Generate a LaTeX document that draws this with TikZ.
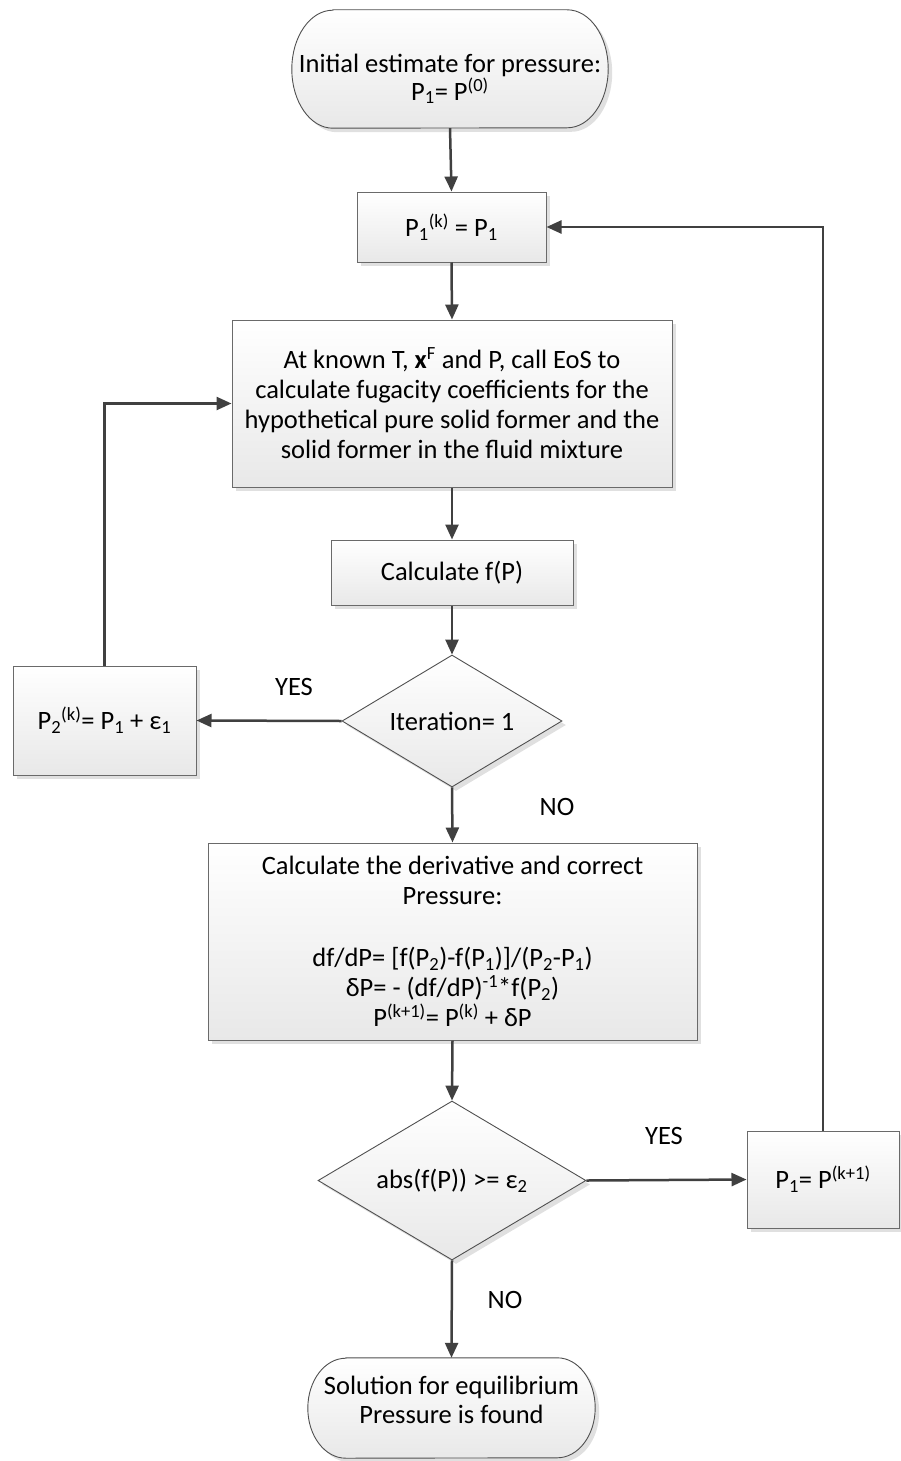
\documentclass[tikz,border=0pt]{standalone}
\usepackage{fontspec}
\setmainfont{Carlito}
\usetikzlibrary{shapes.geometric,arrows.meta,shadows,backgrounds}
\definecolor{arr}{HTML}{404040}
\definecolor{edge}{HTML}{6A6A6A}
\definecolor{dedge}{HTML}{505050}
\tikzset{
  base/.style={font=\fontsize{26.5}{30}\selectfont, align=center, inner sep=0pt},
  shad/.style={drop shadow={shadow xshift=4pt, shadow yshift=-4pt, fill=black!12, opacity=1}},
  grad/.style={top color=white, bottom color=black!9},
  stepbox/.style={base, rectangle, draw=edge, line width=1pt, grad, shad},
  decision/.style={base, diamond, draw=dedge, line width=0.9pt, grad, shad},
  termtext/.style={base, rectangle},
  termshape/.style={draw=dedge, line width=0.9pt, grad, shad},
  conn/.style={draw=arr, line width=2.5pt, -{Triangle[length=15pt,width=13pt]}},
  lab/.style={font=\fontsize{26.5}{30}\selectfont, inner sep=0pt}
}
\begin{document}
\begin{tikzpicture}[x=1pt,y=-1pt]
\useasboundingbox (0,0) rectangle (901,1461);

% terminals (text nodes; outline drawn behind from their anchors)
\node[termtext, font=\fontsize{26.5}{26}\selectfont, minimum width=316, minimum height=98] (start) at (450,79)
  {Initial estimate for pressure:\\P\textsubscript{1}= P\textsuperscript{(0)}};
\node[termtext, font=\fontsize{26.5}{29}\selectfont, minimum width=287, minimum height=84] (stop) at (451.5,1400)
  {Solution for equilibrium\\Pressure is found};
\begin{scope}[on background layer]
\path[termshape] ([xshift=41pt,yshift=20pt]start.north west) -- ([xshift=-41pt,yshift=20pt]start.north east)
  arc[start angle=-90, end angle=90, x radius=41, y radius=59]
  -- ([xshift=41pt]start.south west)
  arc[start angle=90, end angle=270, x radius=41, y radius=59] -- cycle;
\path[termshape] ([xshift=38pt]stop.north west) -- ([xshift=-38pt]stop.north east)
  arc[start angle=-90, end angle=90, x radius=38, y radius=50]
  -- ([xshift=38pt,yshift=-16pt]stop.south west)
  arc[start angle=90, end angle=270, x radius=38, y radius=50] -- cycle;
\end{scope}

% process boxes
\node[stepbox, minimum width=189, minimum height=70] (b1) at (451.5,227)
  {P\textsubscript{1}\textsuperscript{(k)} = P\textsubscript{1}};
\node[stepbox, minimum width=440, minimum height=167] (eos) at (452,403.5)
  {At known T, \textbf{x}\textsuperscript{F} and P, call EoS to\\
   calculate fugacity coefficients for the\\
   hypothetical pure solid former and the\\
   solid former in the fluid mixture};
\node[stepbox, minimum width=242, minimum height=65] (fp) at (452,572.5)
  {Calculate f(P)};
\node[decision, aspect=1.667, minimum width=220, minimum height=132] (d1) at (452,721)
  {Iteration= 1};
\node[stepbox, minimum width=183, minimum height=109] (p2) at (104.5,720.5)
  {P\textsubscript{2}\textsuperscript{(k)}= P\textsubscript{1} + ε\textsubscript{1}};
\node[stepbox, minimum width=489, minimum height=197] (b2) at (452.5,941.5)
  {Calculate the derivative and correct\\
   Pressure:\\[32pt]
   df/dP= [f(P\textsubscript{2})-f(P\textsubscript{1})]/(P\textsubscript{2}-P\textsubscript{1})\\
   δP= - (df/dP)\textsuperscript{-1}*f(P\textsubscript{2})\\
   P\textsuperscript{(k+1)}= P\textsuperscript{(k)} + δP};
\node[decision, aspect=1.686, minimum width=268, minimum height=159] (d2) at (452,1180.5)
  {abs(f(P)) >= ε\textsubscript{2}};
\node[stepbox, minimum width=152, minimum height=97] (p1n) at (823,1179.5)
  {P\textsubscript{1}= P\textsuperscript{(k+1)}};

% labels
\node[lab] (yes1) at (294,687) {YES};
\node[lab] (no1) at (557,807) {NO};
\node[lab] (yes2) at (664,1136) {YES};
\node[lab] (no2) at (505,1300) {NO};

% connectors
\draw[conn] (start.south) -- (b1.north);
\draw[conn] (b1.south) -- (eos.north);
\draw[conn] (eos.south) -- (fp.north);
\draw[conn] (fp.south) -- (d1.north);
\draw[conn] (d1.west) -- (p2.east);
\draw[conn] (p2.north) |- (eos.west);
\draw[conn] (d1.south) -- (b2.north);
\draw[conn] (b2.south) -- (d2.north);
\draw[conn] (d2.east) -- (p1n.west);
\draw[conn] (p1n.north) |- (b1.east);
\draw[conn] (d2.south) -- (stop.north);
\end{tikzpicture}
\end{document}
